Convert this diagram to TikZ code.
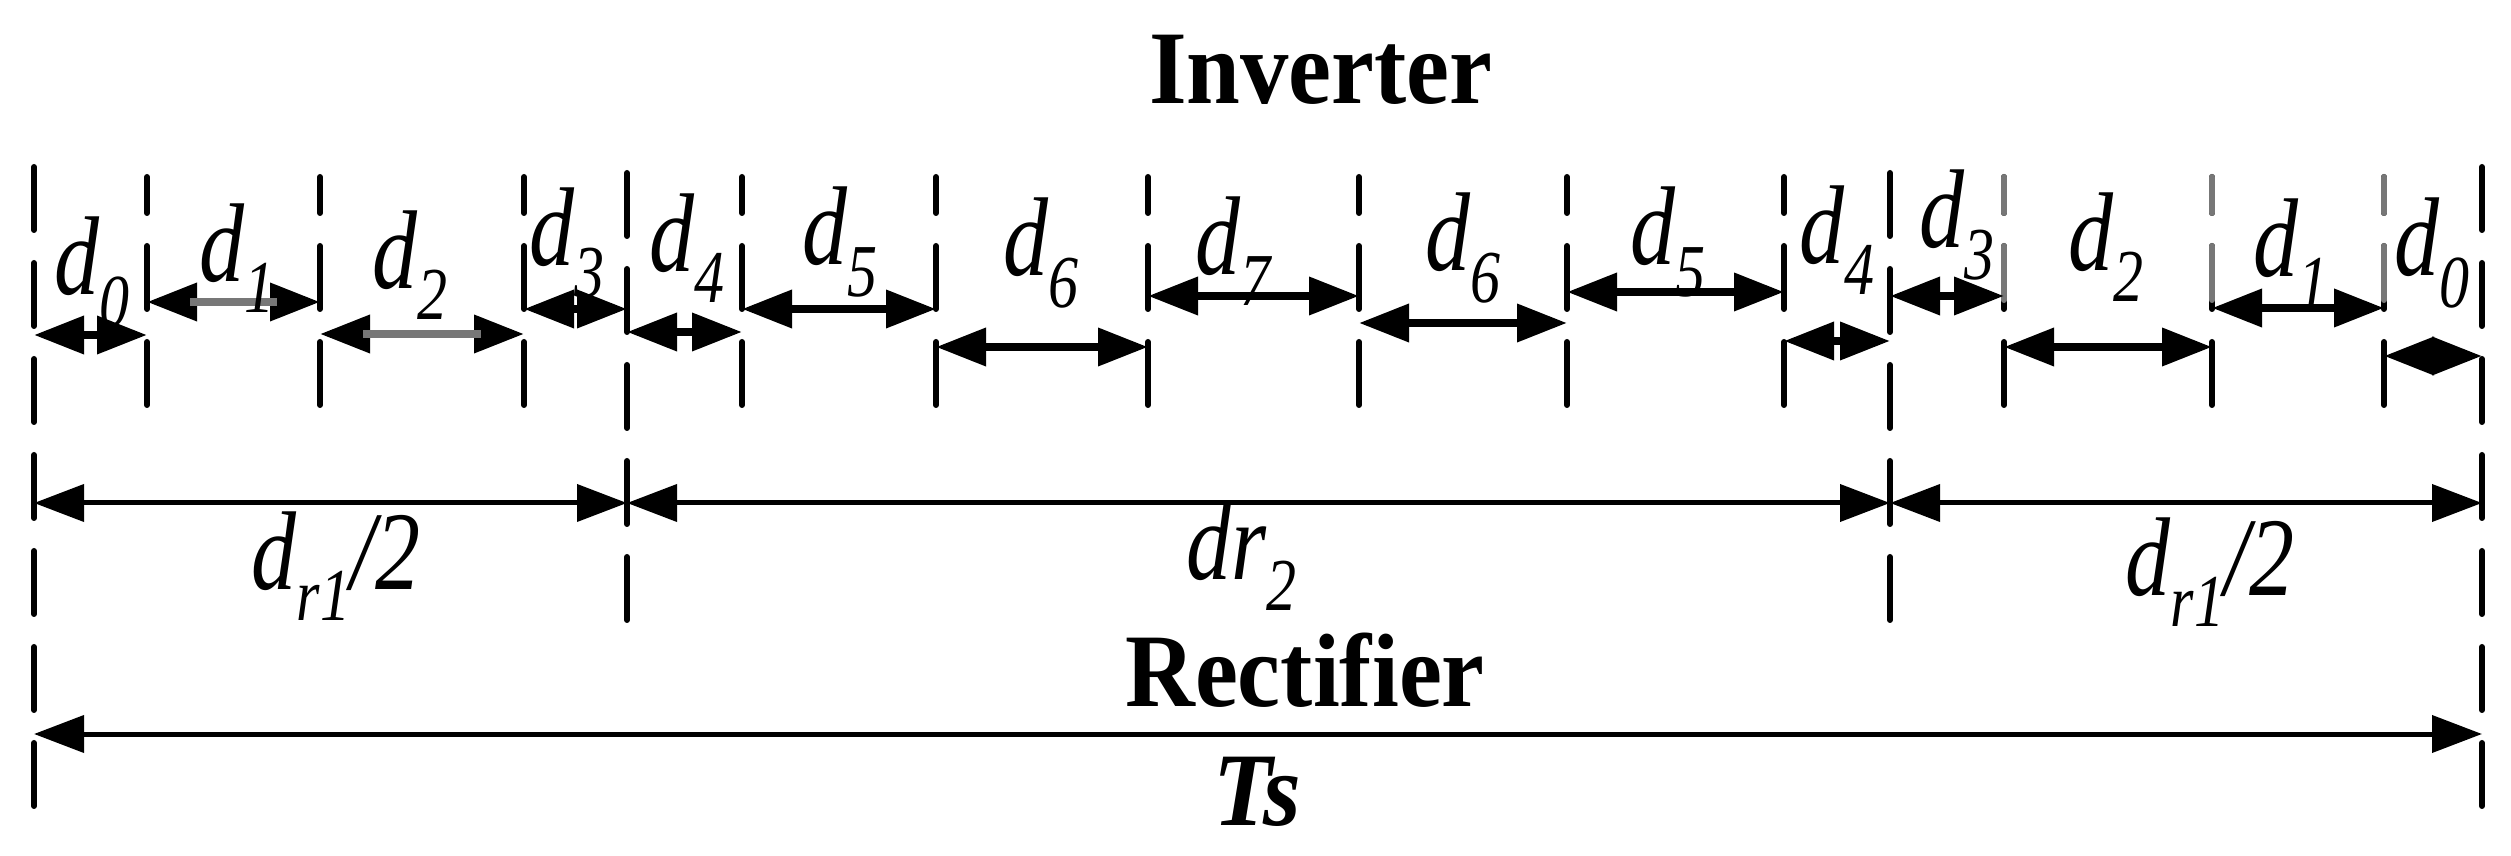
\documentclass[tikz,border=0pt]{standalone}
\usepackage{fontspec}
\setmainfont{Liberation Serif}
\usetikzlibrary{arrows.meta}
\definecolor{gr}{HTML}{777777}
\newcommand{\dsb}[2]{\textit{#1\raisebox{-0.28em}{\fontsize{20}{20}\selectfont #2}}}
\begin{document}
\begin{tikzpicture}[x=0.3pt,y=-0.3pt,
  vl/.style={line width=1.8pt,line cap=round,dash pattern=on 18.9pt off 9.9pt},
  ia/.style={line width=2.4pt,{Triangle[length=15pt,width=11pt]}-{Triangle[length=15pt,width=11pt]}},
  ra/.style={line width=1.5pt,{Triangle[length=15pt,width=11pt]}-{Triangle[length=15pt,width=11pt]}},
  lb/.style={font=\fontsize{30}{30}\selectfont,inner sep=0pt,xscale=0.9,yscale=1.12},
  tb/.style={font=\fontsize{29}{30}\selectfont\bfseries,inner sep=0pt,yscale=1.08}]
\useasboundingbox (0,0) rectangle (2511,856);
\foreach \x in {34,2482}{\draw[vl] (\x,167) -- (\x,806);}
\foreach \x in {627,1890}{\draw[vl] (\x,173) -- (\x,628);}
\foreach \x in {147,320,524,742,936,1148,1359,1567,1784,2004,2212,2384}{
  \draw[vl,dash phase=8.1pt] (\x,177) -- (\x,410);}
\foreach \x in {2004,2212,2384}{\draw[vl,gr,dash phase=8.1pt] (\x,177) -- (\x,300);}
\foreach \a/\b/\y/\n in {34/147/335/a0,147/320/302/a1,320/524/334/a2,524/627/309/a3,627/742/332/a4,742/936/309/a5,936/1148/347/a6,1148/1359/296/a7,1359/1567/323/b6,1567/1784/292/b5,1784/1890/341/b4,1890/2004/296/b3,2004/2212/347/b2,2212/2384/308/b1,2384/2482/356/b0}{
  \coordinate (\n l) at (\a,\y); \coordinate (\n r) at (\b,\y);
  \draw[ia] (\n l) -- (\n r);}
\draw[gr,line width=2.4pt] ([xshift=13pt]a1l) -- ([xshift=-13pt]a1r);
\draw[gr,line width=2.4pt] ([xshift=13pt]a2l) -- ([xshift=-13pt]a2r);
\coordinate (r0) at (34,503); \coordinate (r1) at (627,503);
\coordinate (r2) at (1890,503); \coordinate (r3) at (2482,503);
\draw[ra] (r0) -- (r1); \draw[ra] (r1) -- (r2); \draw[ra] (r2) -- (r3);
\coordinate (t0) at (34,734); \coordinate (t1) at (2482,734);
\draw[ra] (t0) -- (t1);
\foreach \x/\y/\s/\n in {92/272/0/l0,237/258/1/l1,410/265/2/l2,567/243/3/l3,687/248/4/l4,840/242/5/l5,1041/253/6/l6,1233/251/7/l7,1463/248/6/m6,1668/242/5/m5,1837/240/4/m4,1957/225/3/m3,2106/247/2/m2,2291/253/1/m1,2432/253/0/m0}{
  \node[lb] (\n) at (\x,\y) {\dsb{d}{\s}};}
\node[tb] (inv) at (1321,70) {Inverter};
\node[tb] (rec) at (1305,670) {Rectifier};
\node[tb] (ts) at (1257,792) {\textit{Ts}};
\node[lb] (dr1a) at (336,566) {\dsb{d}{r1}\textit{/2}};
\node[lb] (dr1b) at (2210,572) {\dsb{d}{r1}\textit{/2}};
\node[lb] (dr2) at (1241,556) {\dsb{dr}{2}};
\end{tikzpicture}
\end{document}
